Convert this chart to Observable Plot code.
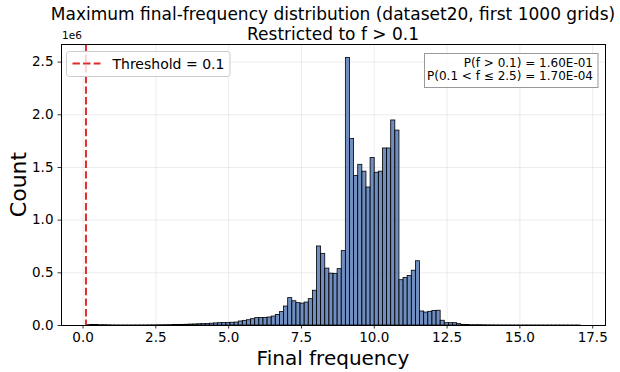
<!DOCTYPE html>
<html>
<head>
<meta charset="utf-8">
<script src="https://cdn.jsdelivr.net/npm/d3@7"></script>
<script src="https://cdn.jsdelivr.net/npm/@observablehq/plot@0.6"></script>
<style>
  html, body { margin: 0; padding: 0; background: #fff; }
  #chart svg { display: block; }
</style>
</head>
<body>
<div id="chart"></div>
<script>
// ---------------- data ----------------
const titleLines = [
  "Maximum final-frequency distribution (dataset20, first 1000 grids)",
  "Restricted to f > 0.1"
];
const xLabel = "Final frequency";
const yLabel = "Count";
const yOffsetLabel = "1e6";
const legendLabel = "Threshold = 0.1";
const statsLines = ["P(f > 0.1) = 1.60E-01", "P(0.1 < f \u2264 2.5) = 1.70E-04"];

const threshold = 0.1;
const binStart = 0.11;
const binWidth = 0.1415;
const countUnit = 1e6;
// counts per bin, in units of 1e6 (120 bins)
const countsMillions = [
  0.003, 0.004, 0.004, 0.003, 0.003, 0.002, 0.0008, 0.0006, 0.0005, 0.0005,
  0.0005, 0.0006, 0.0007, 0.0008, 0.001, 0.0012, 0.0015, 0.002, 0.0025, 0.003,
  0.0035, 0.004, 0.005, 0.006, 0.007, 0.009, 0.010, 0.012, 0.013, 0.014,
  0.017, 0.020, 0.022, 0.023, 0.025, 0.026, 0.028, 0.038, 0.044, 0.050,
  0.060, 0.070, 0.071, 0.072, 0.076, 0.085, 0.100, 0.127, 0.180, 0.260,
  0.230, 0.212, 0.208, 0.218, 0.250, 0.330, 0.750, 0.680, 0.540, 0.492,
  0.490, 0.535, 0.706, 2.540, 1.770, 1.420, 1.525, 1.460, 1.310, 1.590,
  1.450, 1.460, 1.680, 1.680, 1.946, 1.850, 0.430, 0.450, 0.470, 0.520,
  0.610, 0.133, 0.123, 0.130, 0.137, 0.140, 0.045, 0.022, 0.022, 0.022,
  0.013, 0.006, 0.004, 0.003, 0.003, 0.003, 0.002, 0.0015, 0.0012, 0.001,
  0.0008, 0.0007, 0.0006, 0.0005, 0.0005, 0.0004, 0.0004, 0.0003, 0.0003, 0.0003,
  0.0003, 0.0002, 0.0002, 0.0002, 0.0002, 0.0002, 0.0001, 0.0001, 0.0001, 0.0001
];
const xTicks = [0, 2.5, 5, 7.5, 10, 12.5, 15, 17.5];
const yTicksMillions = [0, 0.5, 1.0, 1.5, 2.0, 2.5];

// ---------------- layout ----------------
const W = 620, H = 372;
const mL = 61, mR = 15, mT = 44, mB = 47;
const font = "DejaVu Sans";
const red = "#e02b2b";

const bins = countsMillions.map((c, i) => ({
  x1: binStart + i * binWidth,
  x2: binStart + (i + 1) * binWidth,
  count: c * countUnit
}));
const yTicks = yTicksMillions.map(v => v * countUnit);
const xMin = bins[0].x1, xMax = bins[bins.length - 1].x2, span = xMax - xMin;
const yMax = d3.max(bins, d => d.count);

const chart = Plot.plot({
  width: W, height: H,
  marginLeft: mL, marginRight: mR, marginTop: mT, marginBottom: mB,
  style: { fontFamily: font, fontSize: "13px", background: "white", color: "black", overflow: "visible" },
  x: { domain: [xMin - 0.05 * span, xMax + 0.05 * span] },
  y: { domain: [0, yMax * 1.05] },
  marks: [
    Plot.gridX(xTicks, { stroke: "#b0b0b0", strokeOpacity: 0.3, strokeWidth: 0.8 }),
    Plot.gridY(yTicks, { stroke: "#b0b0b0", strokeOpacity: 0.3, strokeWidth: 0.8 }),
    Plot.rect(bins, {
      x1: "x1", x2: "x2", y1: () => 0, y2: "count",
      fill: "#4c72b0", fillOpacity: 0.8, stroke: "black", strokeWidth: 0.8
    }),
    Plot.ruleX([threshold], { stroke: red, strokeWidth: 2, strokeDasharray: "7.4,3.2" }),
    Plot.frame({ stroke: "black", strokeWidth: 1 }),
    Plot.axisX(xTicks, { tickSize: 3.5, tickPadding: 3.5, tickFormat: d => d.toFixed(1), label: null, fontSize: 13.5, strokeWidth: 0.8 }),
    Plot.axisY(yTicks, { tickSize: 3.5, tickPadding: 4.5, tickFormat: d => (d / countUnit).toFixed(1), label: null, fontSize: 13.5, strokeWidth: 0.8 })
  ]
});

document.getElementById("chart").appendChild(chart);

// ---------------- annotations ----------------
const svg = d3.select(chart);
const cx = mL + (W - mL - mR) / 2;
const g = svg.append("g").attr("font-family", font).attr("fill", "black").attr("text-anchor", "start");

g.selectAll("text.title").data(titleLines).join("text")
  .attr("class", "title")
  .attr("x", cx).attr("y", (d, i) => 20 + i * 20)
  .attr("text-anchor", "middle").attr("font-size", 17)
  .text(d => d);

g.append("text").attr("x", 62).attr("y", 39).attr("text-anchor", "start").attr("font-size", 10.5).text(yOffsetLabel);

g.append("text").attr("x", cx).attr("y", 365).attr("text-anchor", "middle").attr("font-size", 20).text(xLabel);

g.append("text")
  .attr("transform", `translate(26,${mT + (H - mT - mB) / 2}) rotate(-90)`)
  .attr("text-anchor", "middle").attr("font-size", 22).text(yLabel);

// legend
const lg = g.append("g");
lg.append("rect").attr("x", 66.5).attr("y", 51.5).attr("width", 163.5).attr("height", 25)
  .attr("rx", 3).attr("fill", "white").attr("fill-opacity", 0.8).attr("stroke", "#cccccc").attr("stroke-width", 1);
lg.append("line").attr("x1", 72.5).attr("x2", 100.5).attr("y1", 63.5).attr("y2", 63.5)
  .attr("stroke", red).attr("stroke-width", 2).attr("stroke-dasharray", "7.4,3.2");
lg.append("text").attr("x", 112.5).attr("y", 68.5).attr("text-anchor", "start").attr("font-size", 14).text(legendLabel);

// stats box
const sg = g.append("g");
sg.append("rect").attr("x", 424.5).attr("y", 53.5).attr("width", 173.5).attr("height", 34)
  .attr("fill", "white").attr("fill-opacity", 0.8).attr("stroke", "#999999").attr("stroke-width", 1);
sg.selectAll("text").data(statsLines).join("text")
  .attr("x", 593).attr("y", (d, i) => 67 + i * 12.8)
  .attr("text-anchor", "end").attr("font-size", 12).text(d => d);
</script>
</body>
</html>
